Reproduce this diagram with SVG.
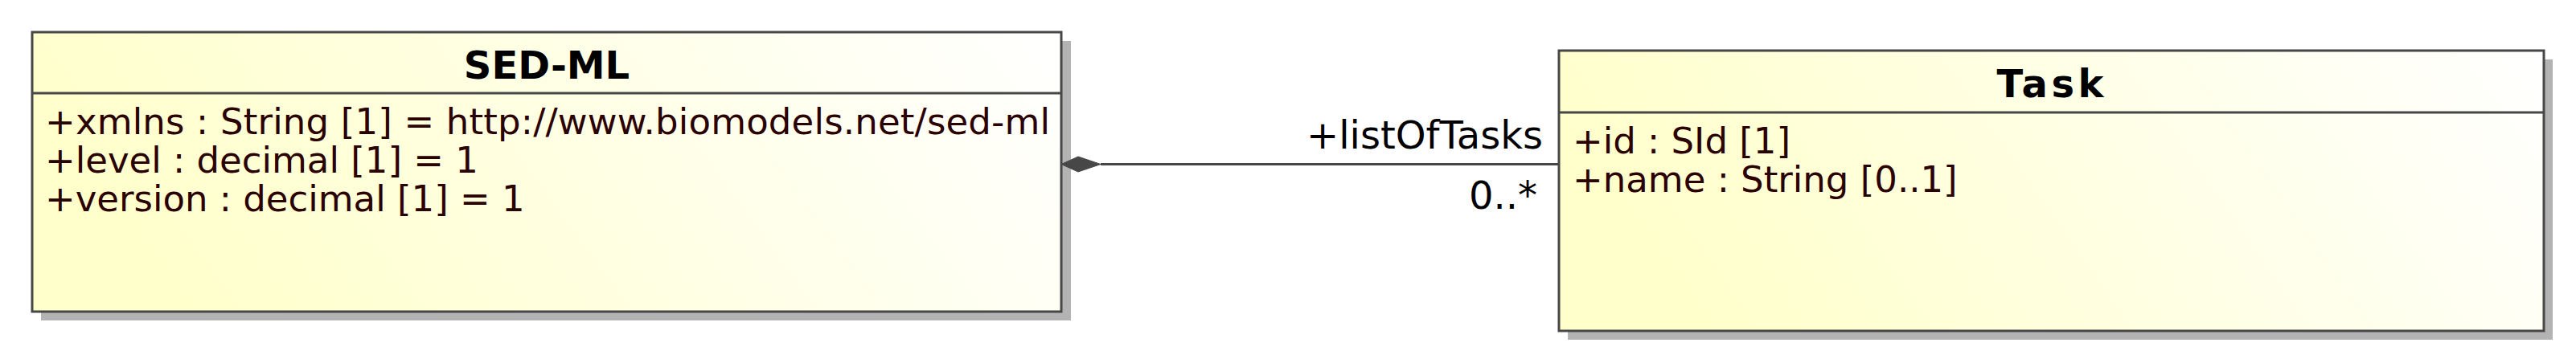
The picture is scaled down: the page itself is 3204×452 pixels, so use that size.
<svg xmlns="http://www.w3.org/2000/svg" width="3204" height="452" viewBox="0 0 3204 452">
<style>
.box{stroke:#474747;stroke-width:3;fill:url(#g)}
.shadow{fill:#b3b3b3}
.div{stroke:#474747;stroke-width:3}
.title{font-family:"DejaVu Sans",sans-serif;font-weight:bold;font-size:48px;fill:#000;text-anchor:middle}
.attr{font-family:"DejaVu Sans",sans-serif;font-size:45px;fill:#2b0000}
.lbl{font-family:"DejaVu Sans",sans-serif;font-size:48px;fill:#000;text-anchor:end}
.edge{stroke:#474747;stroke-width:3;fill:none}
</style>
<defs>
<linearGradient id="g" x1="0" y1="0.2" x2="1" y2="0">
<stop offset="0" stop-color="#ffffcc"/>
<stop offset="1" stop-color="#ffffff"/>
</linearGradient>
</defs>
<rect width="3204" height="452" fill="#ffffff"/>
<g id="sedml">
<rect class="shadow" x="51" y="51" width="1281" height="348"/>
<rect class="box" x="40" y="40" width="1280" height="348"/>
<line class="div" x1="40" y1="116" x2="1320" y2="116"/>
<text class="title" x="680" y="98">SED-ML</text>
<text class="attr" x="56" y="167" textLength="1250" lengthAdjust="spacing">+xmlns : String [1] = http://www.biomodels.net/sed-ml</text>
<text class="attr" x="56" y="215">+level : decimal [1] = 1</text>
<text class="attr" x="56" y="263">+version : decimal [1] = 1</text>
</g>
<g id="task">
<rect class="shadow" x="1950" y="74" width="1225" height="349"/>
<rect class="box" x="1939" y="63" width="1225" height="349"/>
<line class="div" x1="1939" y1="140" x2="3164" y2="140"/>
<text class="title" x="2550" y="121" textLength="133" lengthAdjust="spacing">Task</text>
<text class="attr" x="1956" y="191">+id : SId [1]</text>
<text class="attr" x="1956" y="239">+name : String [0..1]</text>
</g>
<g id="connectors">
<line class="edge" x1="1369" y1="204.5" x2="1939" y2="204.5"/>
<polygon points="1320,204.5 1341,195 1369,204.5 1341,214" fill="#474747" stroke="#474747" stroke-width="1"/>
<text class="lbl" x="1919" y="185">+listOfTasks</text>
<text class="lbl" x="1912" y="260">0..*</text>
</g>
</svg>
